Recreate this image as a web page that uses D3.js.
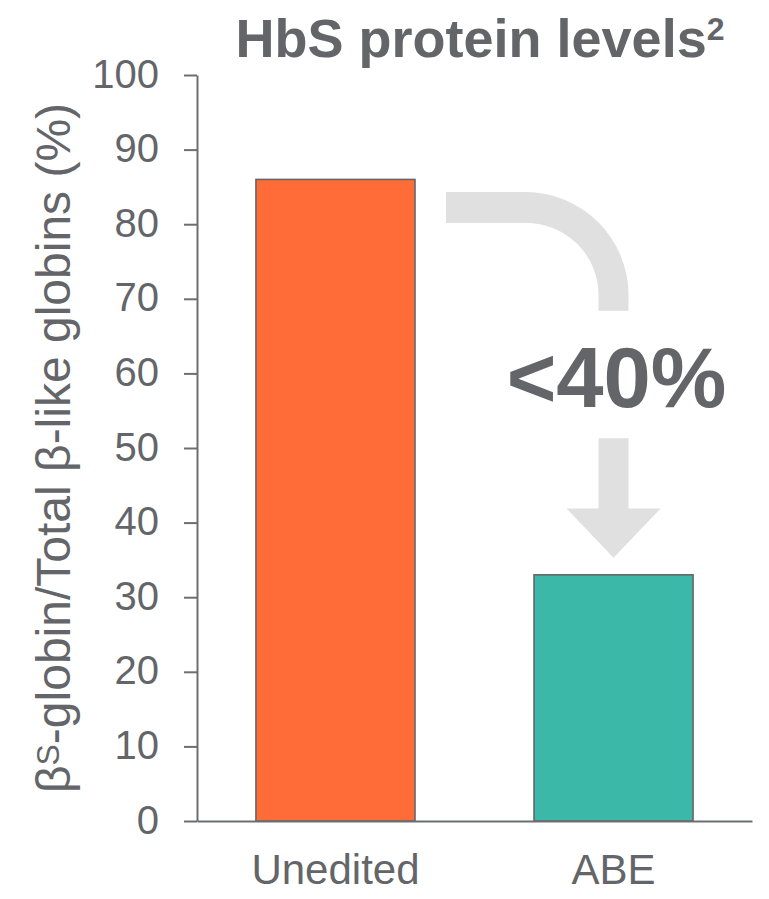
<!DOCTYPE html>
<html>
<head>
<meta charset="utf-8">
<script src="https://cdn.jsdelivr.net/npm/d3@7"></script>
<style>
  html, body { margin: 0; padding: 0; background: #fff; }
  svg { display: block; font-family: "Liberation Sans", Arial, sans-serif; }
</style>
</head>
<body>
<div id="chart"></div>
<script>
// Share of sickle beta-globin among all beta-like globins
const categories = ["Unedited", "ABE"];
const values = [86, 33];
const barColors = ["#FF6C37", "#3BB8A8"];
const yTicks = [0, 10, 20, 30, 40, 50, 60, 70, 80, 90, 100];
const reductionLabel = "<40%";

const width = 769, height = 899;
const margin = { top: 75, right: 17, bottom: 78, left: 197 };
const textColor = "#636569";
const axisColor = "#6D6E71";

const svg = d3.select("#chart").append("svg")
  .attr("width", width).attr("height", height);

const x = d3.scaleBand()
  .domain(categories)
  .range([margin.left, width - margin.right])
  .paddingInner(0.428)
  .paddingOuter(0.212);

const y = d3.scaleLinear()
  .domain([0, 100])
  .range([height - margin.bottom, margin.top]);

// Bars
svg.append("g").selectAll("rect")
  .data(categories)
  .join("rect")
  .attr("x", d => x(d))
  .attr("y", (d, i) => y(values[i]))
  .attr("width", x.bandwidth())
  .attr("height", (d, i) => y(0) - y(values[i]))
  .attr("fill", (d, i) => barColors[i])
  .attr("stroke", "#666")
  .attr("stroke-width", 1.6);

// Y axis
const yAxis = svg.append("g")
  .attr("transform", `translate(${margin.left},0)`)
  .call(d3.axisLeft(y).tickValues(yTicks).tickSize(13).tickPadding(25).tickSizeOuter(0));
yAxis.select(".domain").attr("stroke", axisColor).attr("stroke-width", 2);
yAxis.selectAll(".tick line").attr("stroke", axisColor).attr("stroke-width", 2);
yAxis.selectAll(".tick text")
  .attr("fill", textColor)
  .style("font-size", "40px")
  .attr("dy", "0.3em");

// X axis baseline
const xAxis = svg.append("g")
  .attr("transform", `translate(0,${y(0)})`)
  .call(d3.axisBottom(x).tickSize(0).tickPadding(33).tickSizeOuter(0));
xAxis.select(".domain").attr("stroke", axisColor).attr("stroke-width", 2);
xAxis.selectAll(".tick text")
  .attr("fill", textColor)
  .style("font-size", "42px");

// Y axis title
const yTitle = svg.append("text")
  .attr("transform", `translate(70,${(y(0) + y(100)) / 2}) rotate(-90)`)
  .attr("text-anchor", "middle")
  .attr("fill", textColor)
  .style("font-size", "48px");
yTitle.append("tspan").text("β");
yTitle.append("tspan").attr("dy", "-0.35em").style("font-size", "32px").text("S");
yTitle.append("tspan").attr("dy", "11").text("-globin/Total β-like globins (%)");

// Chart title
const title = svg.append("text")
  .attr("x", 480).attr("y", 57)
  .attr("text-anchor", "middle")
  .attr("fill", textColor)
  .style("font-size", "54px")
  .style("font-weight", "bold");
title.append("tspan").text("HbS protein levels");
title.append("tspan").attr("dy", "-17").style("font-size", "32px").text("2");

// Reduction arrow, placed with the chart scales
const cx = x("ABE") + x.bandwidth() / 2;
const shaft = 30;
const half = shaft / 2;
const xStart = x("Unedited") + x.bandwidth() + 31;
const topY = y(84.3), botY = topY + shaft + 1;
const Ro = 103, Ri = Ro - shaft - 1;
const xo = cx + half, xi = cx - half;
const bendEnd = y(68.4);
const arrowFill = "#E0E0E0";

svg.append("path")
  .attr("d", `M${xStart},${topY} L${xo - Ro},${topY} A${Ro},${Ro} 0 0 1 ${xo},${topY + Ro}
              L${xo},${bendEnd} L${xi},${bendEnd} L${xi},${botY + Ri}
              A${Ri},${Ri} 0 0 0 ${xo - Ro},${botY} L${xStart},${botY} Z`)
  .attr("fill", arrowFill);

const shaftTop = y(51.3), headTop = y(41.9), tip = y(35.3);
svg.append("path")
  .attr("d", `M${xi},${shaftTop} L${xo},${shaftTop} L${xo},${headTop} L${cx + 47},${headTop}
              L${cx},${tip} L${cx - 47},${headTop} L${xi},${headTop} Z`)
  .attr("fill", arrowFill);

svg.append("text")
  .attr("x", cx + 3).attr("y", y(55.5))
  .attr("text-anchor", "middle")
  .attr("fill", textColor)
  .style("font-size", "85px")
  .style("font-weight", "bold")
  .text(reductionLabel);
</script>
</body>
</html>
